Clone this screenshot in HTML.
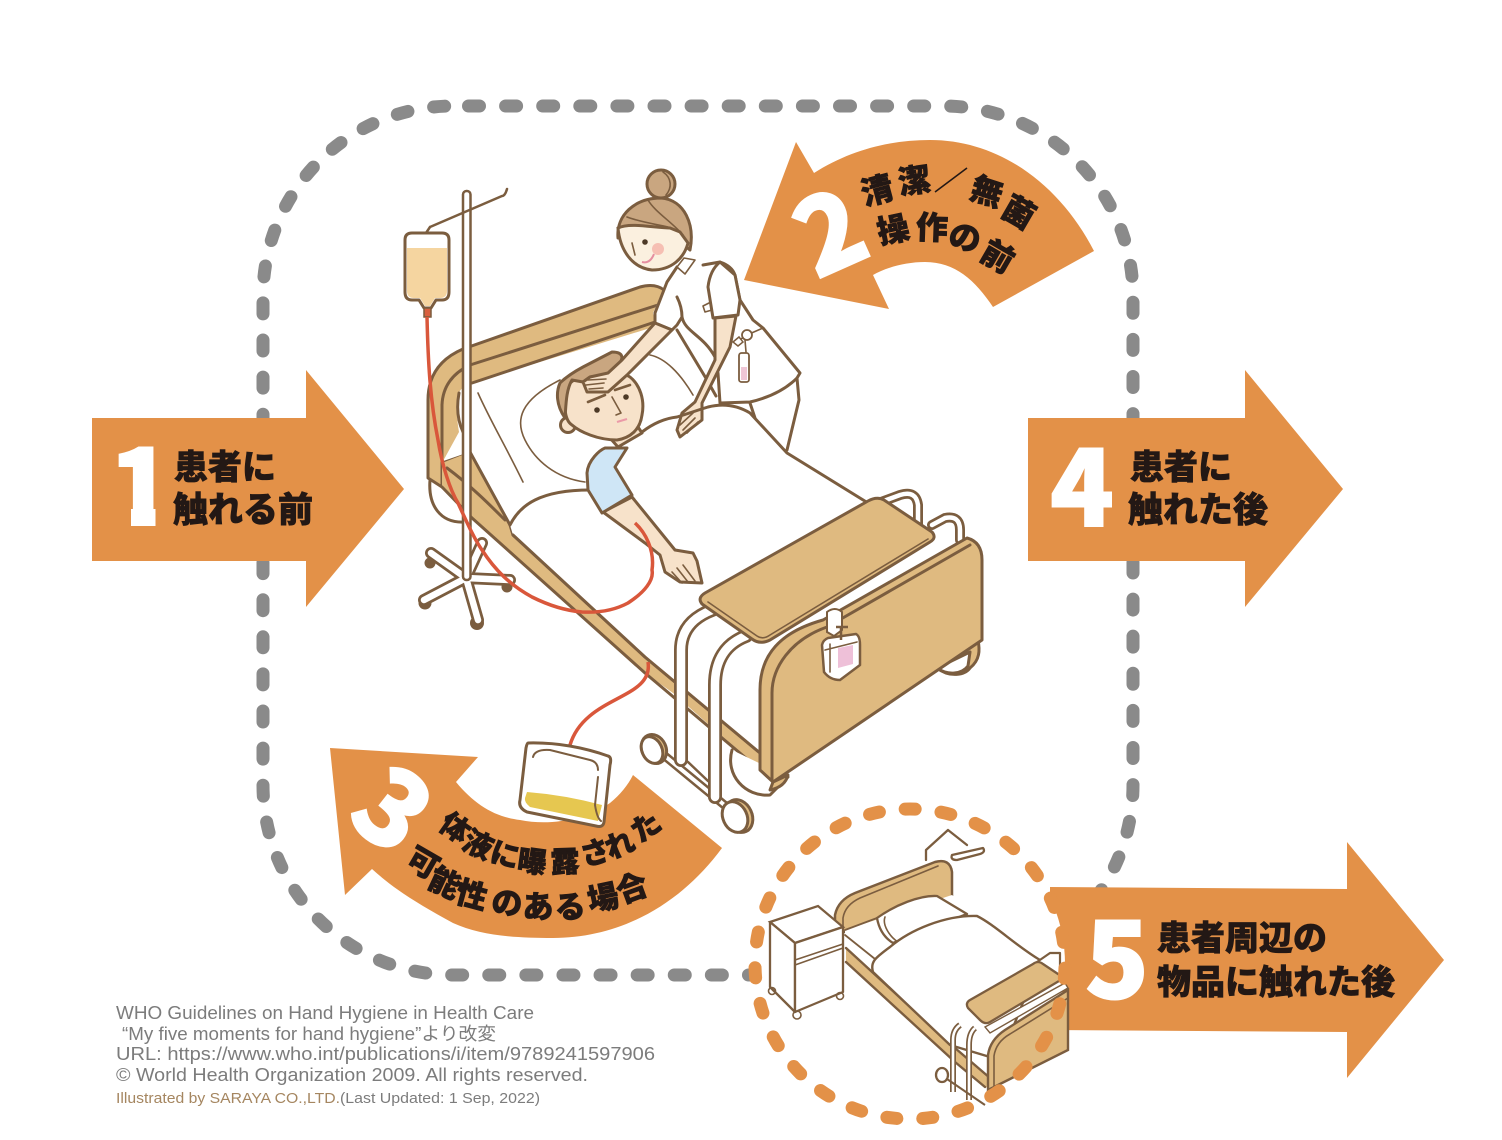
<!DOCTYPE html>
<html lang="ja"><head><meta charset="utf-8"><title>5 moments</title>
<style>
html,body{margin:0;padding:0;background:#fff}
svg{display:block}
.l{fill:none;stroke:#7b5d3f;stroke-width:3;stroke-linecap:round;stroke-linejoin:round}
.t{stroke-width:1.6}
.tan{fill:#dfba80}.w{fill:#fff}.sk{fill:#f7e2ca}.hr{fill:#c9a680}
.j{font-family:"Liberation Sans","Noto Sans CJK JP",sans-serif;font-weight:900;font-size:32px;fill:#231815;stroke:#231815;stroke-width:.7;text-anchor:middle}
.n{font-family:"Noto Sans CJK JP","Liberation Sans",sans-serif;font-weight:900;fill:#fff;stroke:#fff;stroke-width:2;font-size:104px;text-anchor:middle}
.c{font-family:"Liberation Sans","Noto Sans CJK JP",sans-serif;font-size:18px;fill:#7c7c7c}
</style></head><body>
<svg width="1502" height="1140" viewBox="0 0 1502 1140" xmlns="http://www.w3.org/2000/svg">
<rect width="1502" height="1140" fill="#fff"/>
<rect x="263" y="106" width="870" height="869" rx="190" fill="none" stroke="#8a8a8a" stroke-width="13" stroke-linecap="round" stroke-dasharray="11 26.1" stroke-dashoffset="-15.5"/>

<g fill="#e39148">
<path d="M92,418H306V370L404,489L306,607V561H92Z"/>
<path d="M1028,418H1245V370L1343,489L1245,607V561H1028Z"/>
<path d="M796,142L814,173C850,150 890,140 930,140C1000,140 1060,185 1094,251L993,307C975,280 955,262 925,262C905,262 885,268 873,275L889,309L744,280Z"/>
<path d="M330,748L478,757L456,782C475,805 495,817 520,820C550,826 585,820 610,803C620,795 628,785 633,775L722,848C680,905 620,938 553,938C510,938 480,935 453,923C420,905 395,890 372,869L345,895Z"/>
</g>
<text class="n" x="141" y="525">1</text>
<g fill="#e39148"><rect x="100" y="505" width="31" height="26"/><rect x="155.5" y="505" width="20" height="26"/></g>
<text class="n" x="1082" y="526">4</text>
<text class="n" transform="translate(830,232) rotate(-24)" x="0" y="38">2</text>
<text class="n" transform="translate(392,810) rotate(38)" x="0" y="37">3</text>

<g class="j" style="font-size:34px">
<text x="225" y="479">患者に</text><text x="243" y="522" style="font-size:35px">触れる前</text>
<text x="1181" y="479">患者に</text><text x="1198" y="522" style="font-size:35px">触れた後</text>
</g>
<g class="j">
<text transform="translate(877,190) rotate(-15)" y="12">清</text>
<text transform="translate(914,180) rotate(-8)" y="12">潔</text>
<text transform="translate(987,191) rotate(18)" y="12">無</text>
<text transform="translate(1019,212) rotate(30)" y="12">菌</text>
<text transform="translate(893,229) rotate(-12)" y="12">操</text>
<text transform="translate(932,227) rotate(2)" y="12">作</text>
<text transform="translate(965,237) rotate(15)" y="12">の</text>
<text transform="translate(998,256) rotate(30)" y="12">前</text>
</g>
<g class="j" style="font-size:29px">
<text transform="translate(455,828) rotate(35)" y="10">体</text>
<text transform="translate(478,845) rotate(25)" y="10">液</text>
<text transform="translate(505,855) rotate(15)" y="10">に</text>
<text transform="translate(532,862) rotate(8)" y="10">曝</text>
<text transform="translate(565,862) rotate(-2)" y="10">露</text>
<text transform="translate(595,853) rotate(-15)" y="10">さ</text>
<text transform="translate(620,845) rotate(-22)" y="10">れ</text>
<text transform="translate(646,827) rotate(-35)" y="10">た</text>
</g>
<g class="j" style="font-size:31px">
<text transform="translate(423,863) rotate(30)" y="11">可</text>
<text transform="translate(445,883) rotate(25)" y="11">能</text>
<text transform="translate(472,895) rotate(15)" y="11">性</text>
<text transform="translate(507,903) rotate(5)" y="11">の</text>
<text transform="translate(538,907)" y="11">あ</text>
<text transform="translate(570,907) rotate(-5)" y="11">る</text>
<text transform="translate(603,898) rotate(-12)" y="11">場</text>
<text transform="translate(632,888) rotate(-20)" y="11">合</text>
</g>
<path d="M935,192L967,168" stroke="#231815" stroke-width="1.6"/>

<!-- IV stand -->
<g fill="#7b5d3f">
<circle cx="430" cy="563" r="5.5"/><circle cx="425" cy="603" r="6.5"/><circle cx="477" cy="623" r="7"/><circle cx="507" cy="587" r="5.5"/>
</g>
<g fill="none" stroke-linecap="round" stroke-linejoin="round">
<path d="M466,578L431,553M466,578L424,600M466,578L478,620M466,578L510,580M466,578L482,543" stroke="#7b5d3f" stroke-width="12"/>
<path d="M466,578L431,553M466,578L424,600M466,578L478,620M466,578L510,580M466,578L482,543" stroke="#fff" stroke-width="6.5"/>
</g>

<!-- rear wheel left -->
<path class="l" d="M430,480C428,505 440,524 466,522"/>
<!-- headboard -->
<path class="tan" d="M664,290Q655,283 640,287L463,349Q428,364 428,400L428,478L442,487L472,518L470,452L442,463L459,432Q455,410 459,393Q460,388 472,383L660,325Z"/>
<path class="l" d="M664,290Q655,283 640,287L463,349Q428,364 428,400V478L442,487V405"/>
<path class="l" d="M661,304L470,365Q443,378 442,405M472,383L655,322M459,393Q455,415 463,432M442,463L468,454"/>
<!-- side frame -->
<path class="tan" d="M442,463L470,452L510,525L513,535L645,657L760,753V770L673,693L645,673L472,518L442,487Z"/>
<path class="l" d="M442,487L472,518L645,673L760,770M470,452L510,525L513,535L645,657L760,753M447,468C470,485 490,505 505,520"/>

<!-- bed white region -->
<path class="w" d="M590,490C560,487 530,495 510,525L513,535L645,657L760,753V680C760,640 790,622 823,620L935,540L868,503L787,450C765,428 745,402 712,403C680,405 650,425 627,450Z"/>
<path class="l t" d="M478,393C490,420 505,445 523,482M585,482C555,478 535,460 525,440C515,420 520,400 560,380M650,355C665,358 680,373 693,395"/>
<path class="l" d="M513,535L645,657L760,753"/>

<!-- nurse back -->
<path class="w" d="M677,267L695,260L703,265L720,262Q732,266 735,275L740,300L753,320L763,328L800,373L797,378Q780,395 750,402L720,403L700,380L655,323L653,313L667,282Z"/>
<path class="l" d="M677,267L667,282L655,313L655,323L672,330L677,325L682,317M682,317C685,332 703,335 715,357M677,297C681,305 682,312 682,317M677,330L707,380L716,396M703,265L720,262Q732,266 735,275L740,300L753,320L763,328L800,373L797,378Q780,395 750,402L720,403M797,378L799,400L787,450M750,403L755,418M718,373L720,403"/>
<path class="w l t" d="M677,267L684,258L695,260L685,274Z"/>
<path class="l t" d="M708,287L713,318M703,306L711,302L712,310L705,312Z"/>
<path class="l t" d="M738,341L747,335L763,328M745,340L746,352"/>
<circle cx="747" cy="335" r="5" fill="#fff" stroke="#7b5d3f" stroke-width="1.8"/>
<path d="M733,342L739,337L743,342L738,346Z" fill="#fff" stroke="#7b5d3f" stroke-width="1.5"/>
<rect x="739" y="353" width="10" height="29" rx="2.5" fill="#fff" stroke="#7b5d3f" stroke-width="1.8"/>
<rect x="741" y="367" width="6" height="13" fill="#efc6d6"/>

<!-- nurse arm far -->
<path class="sk" d="M655,323L672,330L627,375L608,392L587,392L583,382L590,377L608,373L622,360Z"/>

<!-- nurse near arm -->
<path class="w l" d="M708,287L713,318L738,315L740,300L735,275L720,262Q710,270 708,287Z"/>
<path class="sk l" d="M715,318L736,316L730,347L702,403L702,420L680,437L677,430L682,413L695,402L715,360Z"/>
<path class="l t" d="M683,430L695,418M680,425L693,413M687,433L698,422"/>

<!-- nurse head -->
<circle cx="661" cy="184" r="14" class="hr l"/>
<path class="l t" d="M663,172C672,178 672,188 666,195"/>
<path class="hr l" d="M661,198C635,198 616,215 618,238C625,222 670,232 690,250C695,225 685,200 661,198Z"/>
<path class="l t" d="M648,200C655,212 672,222 683,235M627,217C640,222 655,224 668,227"/>
<path d="M618,228C620,250 632,268 652,270C672,270 684,258 688,243L680,232L670,228C655,228 630,222 618,228Z" fill="#fbf0df" stroke="#7b5d3f" stroke-width="3"/>
<circle cx="645" cy="242" r="2.8" fill="#4d3a27"/>
<circle cx="658" cy="249" r="6" fill="#f6bfb3"/>
<path d="M642,262Q650,264 654,254" fill="none" stroke="#e58ea0" stroke-width="2"/>
<path class="l t" d="M632,243L635,255"/>

<!-- patient -->
<path class="sk l" d="M610,438L618,447L642,433L638,427Z"/>
<circle cx="568" cy="425" r="7.5" class="sk l"/>
<path class="sk l" d="M570,383C562,400 564,420 572,425C580,432 598,440 617,440C630,438 640,430 642,415C645,400 640,385 630,377L600,360Z"/>
<path class="hr l" d="M565,418C556,405 556,392 560,383Q568,375 583,367L612,352Q622,352 622,358L617,373L590,377L583,382L572,380C566,390 566,405 565,418Z"/>
<path class="l" style="stroke-width:2.6" d="M588,402L605,395M615,390L630,385"/>
<circle cx="597" cy="410" r="2.8" fill="#4d3a27"/><circle cx="626" cy="397" r="2.8" fill="#4d3a27"/>
<path class="l t" d="M612,397L621,413L616,415"/>
<path d="M617,422L627,419" stroke="#eb9aa8" stroke-width="2.2"/>
<!-- patient forehead hand / far arm outline -->
<path class="sk l" d="M655,323L672,330L627,375L608,392L587,392L583,382L590,377L608,373L622,360Z"/>
<path class="l t" d="M586,385L604,383M588,380L606,379M589,389L603,388"/>

<!-- blanket outlines -->
<path class="l" d="M642,432C655,422 668,418 677,417C690,413 698,410 708,407C720,404 735,404 750,413L787,453L868,503"/>
<path class="l" d="M510,525C520,505 540,490 590,490"/>

<!-- arm & sleeve -->
<path class="sk l" d="M603,512L632,497L675,550L693,553L697,561L702,583L680,582L665,572L660,555L645,543Z"/>
<path class="l t" d="M677,568L688,582M683,565L695,581M672,572L682,583"/>
<path d="M587,473C588,460 600,450 605,448L627,448L615,467L632,495L602,513L588,490Z" fill="#cfe6f6" stroke="#7b5d3f" stroke-width="3" stroke-linejoin="round"/>

<!-- rear table uprights -->
<path d="M873,505L900,495Q916,490 918,505V530M932,525L945,518Q960,515 960,530V540" fill="none" stroke="#7b5d3f" stroke-width="10" stroke-linecap="round"/>
<path d="M873,505L900,495Q916,490 918,505V530M932,525L945,518Q960,515 960,530V540" fill="none" stroke="#fff" stroke-width="4.5" stroke-linecap="round"/>

<!-- wheels bed -->
<path class="w l" d="M732,750C725,775 745,797 770,795L788,777"/>
<path class="tan l" d="M937,668C950,678 965,675 970,668C980,660 980,650 978,640Z" style="fill:#dfba80"/>
<path class="w l" d="M937,668C948,676 962,674 968,666L970,652Z"/>

<!-- front table uprights -->
<g fill="none" stroke-linecap="round" stroke-linejoin="round">
<path d="M660,752L728,808" stroke="#7b5d3f" stroke-width="9"/>
<path d="M660,752L728,808" stroke="#fff" stroke-width="4"/>
<path d="M712,610Q681,622 681,650V760" stroke="#7b5d3f" stroke-width="14"/>
<path d="M746,636Q715,648 715,685V797" stroke="#7b5d3f" stroke-width="14"/>
<path d="M712,610Q681,622 681,650V760" stroke="#fff" stroke-width="8.5"/>
<path d="M746,636Q715,648 715,685V797" stroke="#fff" stroke-width="8.5"/>
<path d="M688,762L708,781" stroke="#7b5d3f" stroke-width="2.5"/>
</g>
<ellipse cx="654" cy="749" rx="12" ry="15" transform="rotate(-25 654 749)" fill="#dfba80" stroke="#7b5d3f" stroke-width="3"/>
<ellipse cx="652" cy="750" rx="10" ry="14" transform="rotate(-25 652 750)" fill="#fff" stroke="#7b5d3f" stroke-width="3"/>
<ellipse cx="739" cy="816" rx="13" ry="17" transform="rotate(-25 739 816)" fill="#dfba80" stroke="#7b5d3f" stroke-width="3"/>
<ellipse cx="735" cy="817" rx="12" ry="16" transform="rotate(-25 735 817)" fill="#fff" stroke="#7b5d3f" stroke-width="3"/>

<!-- footboard -->
<path class="tan" stroke="#7b5d3f" stroke-width="3" stroke-linejoin="round" d="M760,770V690C760,655 780,632 823,620L967,538Q982,542 982,560V640L773,782Z"/>
<path class="l" d="M772,780V693C772,668 790,640 827,627L970,545"/>
<path class="tan l" d="M773,782L788,775Q785,787 770,790Z" style="fill:#dfba80"/>

<!-- table -->
<path class="tan" stroke="#7b5d3f" stroke-width="3" stroke-linejoin="round" d="M868,501Q877,496 884,500L932,532Q937,538 930,542L770,640Q760,645 752,639L702,604Q697,598 705,593Z"/>
<path class="l t" d="M708,602L757,636Q763,640 770,635L928,539"/>

<!-- sanitizer -->
<path d="M827,632V612Q835,606 842,612V630L834,636Z" fill="#fff" stroke="#7b5d3f" stroke-width="2"/>
<path d="M822,645Q823,640 828,638L856,634Q860,636 860,645V665L840,680Q830,680 824,672Z" fill="#fff" stroke="#7b5d3f" stroke-width="2.5" stroke-linejoin="round"/>
<path d="M838,648L853,645V664L838,668Z" fill="#eec0d8"/>
<path d="M836,627H848M841,627V640" stroke="#7b5d3f" stroke-width="2.5" fill="none"/>
<path class="l t" d="M830,644V672M825,650L857,642"/>

<!-- IV pole and bag -->
<rect x="463" y="191" width="7.5" height="389" rx="3.5" fill="#fff" stroke="#7b5d3f" stroke-width="2.5"/>
<path class="l" d="M430,227L502,196Q505,196 507,189M426,233L430,227" style="stroke-width:2.5"/>
<path d="M412,233H442Q449,233 449,240V292Q449,300 442,300H436L431,308H424L419,300H412Q405,300 405,292V240Q405,233 412,233Z" fill="#fff" stroke="#7b5d3f" stroke-width="3" stroke-linejoin="round"/>
<path d="M407,248H447V291Q447,298 440,298H435L430,306H425L420,298H414Q407,298 407,291Z" fill="#f5d5a0"/>
<rect x="424" y="308" width="7" height="9" fill="#d9603f" stroke="#7b5d3f" stroke-width="1.5"/>

<!-- tube -->
<path d="M427,317C428,360 430,400 438,440C442,465 450,490 458,503C468,525 475,540 482,550C495,570 510,585 532,597C552,607 570,611 582,612C600,613 615,610 628,603C645,592 654,580 652,570C655,550 645,532 635,523" fill="none" stroke="#d9573b" stroke-width="3.5"/>
<path d="M648,662C654,700 585,695 570,745" fill="none" stroke="#d9573b" stroke-width="3.5"/>

<!-- urine bag -->
<path d="M528,743Q568,742 608,756Q612,757 610,765L604,822Q603,828 596,826L527,812Q518,808 520,800L526,748Q527,743 528,743Z" fill="#fff" stroke="#7b5d3f" stroke-width="3" stroke-linejoin="round"/>
<path d="M527,792Q565,795 602,805L598,821L530,807Q524,802 525,798Z" fill="#e6c750"/>
<path class="l" d="M533,757Q535,749 550,750L590,760Q598,762 598,770M598,777L595,805Q597,818 601,821" style="stroke-width:2"/>

<!-- arrow 5 -->
<path d="M1050,887L1347,889V842L1444,960L1347,1078V1032L1050,1030Z" fill="#e39148"/>
<text class="n" x="1117" y="998">5</text>
<g class="j" style="font-size:34px">
<text x="1242" y="950">患者周辺の</text><text x="1276" y="994">物品に触れた後</text>
</g>
<circle cx="910" cy="964" r="155" fill="#fff"/>

<!-- small bed -->
<g>
<path class="l t" style="stroke-width:2.3" d="M926,860V850L948,830L967,845M952,855L983,848Q986,852 980,854L957,860Q950,860 952,855Z"/>
<path d="M835,930V915Q838,900 855,893L935,862Q950,858 952,872V900L845,932Z" fill="#dfba80" stroke="#7b5d3f" stroke-width="2.5" stroke-linejoin="round"/>
<path class="l t" d="M843,930V918Q845,905 860,898L938,866"/>
<path d="M845,930L952,895L1040,960L1000,1060L950,1050L845,955Z" fill="#fff"/>
<path class="tan" d="M846,948L955,1048L990,1078V1090L955,1062L846,962Z"/>
<path class="l" style="stroke-width:2.4" d="M846,948L955,1048L990,1078M846,962L955,1062L985,1087"/>
<path class="w l" style="stroke-width:2.3" d="M877,918C895,905 920,895 937,896L967,914L893,943Q880,935 877,918Z"/>
<path class="l t" d="M885,917C882,925 890,937 898,942"/>
<path class="l t" style="stroke-width:1.8" d="M845,935L880,963"/>
<path class="l t" style="stroke-width:1.8" d="M845,930L877,918"/>
<path class="w l" style="stroke-width:2.4" d="M873,972C870,962 875,958 890,947C910,930 945,915 977,916C995,925 1015,945 1040,960L1000,1060L950,1045Z"/>
<path d="M770,922L818,906L843,927L795,943Z" fill="#fff" stroke="#7b5d3f" stroke-width="2.3"/>
<path d="M770,922L795,943V1012L770,987Z" fill="#fff" stroke="#7b5d3f" stroke-width="2.3" stroke-linejoin="round"/>
<path d="M795,943L843,927V992L795,1012Z" fill="#fff" stroke="#7b5d3f" stroke-width="2.3" stroke-linejoin="round"/>
<path class="l t" d="M795,960L843,944M795,965L843,948"/>
<circle cx="772" cy="991" r="3.5" class="l t" fill="#b59a78"/><circle cx="797" cy="1015" r="4" class="l t" fill="#b59a78"/><circle cx="840" cy="996" r="3.5" class="l t" fill="#b59a78"/>
<path class="w l" style="stroke-width:2.2" d="M1037,962L1050,953L1060,953V975"/>
<path d="M988,1090V1055Q990,1040 1005,1030L1068,990V1050Z" fill="#dfba80" stroke="#7b5d3f" stroke-width="2.4"/>
<path class="l t" d="M994,1090V1056Q996,1042 1010,1034L1068,998"/>
<path d="M960,1025Q953,1030 953,1040V1092M975,1028Q969,1033 969,1045V1100" fill="none" stroke="#7b5d3f" stroke-width="6"/>
<path d="M960,1025Q953,1030 953,1040V1092M975,1028Q969,1033 969,1045V1100" fill="none" stroke="#fff" stroke-width="2.6"/>
<ellipse cx="942" cy="1075" rx="6" ry="7" fill="#fff" stroke="#7b5d3f" stroke-width="2.3"/>
<path d="M947,1079L985,1105" stroke="#7b5d3f" stroke-width="2"/>
<path class="tan" stroke="#7b5d3f" stroke-width="2.3" stroke-linejoin="round" d="M1033,964Q1038,960 1043,964L1064,978L990,1022Q985,1025 980,1020L968,1008Q965,1003 970,1000Z"/>
<path d="M985,1027L1065,983L1068,988L990,1033Z" fill="#fff" stroke="#7b5d3f" stroke-width="1.4"/>
</g>

<circle cx="910" cy="964" r="155" fill="none" stroke="#e39148" stroke-width="13" stroke-linecap="round" pathLength="27" stroke-dasharray="0.28 0.72" stroke-dashoffset="-0.115"/>

<!-- credits -->
<text class="c" x="116" y="1019" textLength="418" lengthAdjust="spacingAndGlyphs">WHO Guidelines on Hand Hygiene in Health Care</text>
<text class="c" x="122" y="1040" textLength="374" lengthAdjust="spacingAndGlyphs">“My five moments for hand hygiene”より改変</text>
<text class="c" x="116" y="1060" textLength="539" lengthAdjust="spacingAndGlyphs">URL: https://www.who.int/publications/i/item/9789241597906</text>
<text class="c" x="116" y="1081" textLength="472" lengthAdjust="spacingAndGlyphs">© World Health Organization 2009. All rights reserved.</text>
<text class="c" x="116" y="1103" style="font-size:15px;fill:#a58660" textLength="224" lengthAdjust="spacingAndGlyphs">Illustrated by SARAYA CO.,LTD.</text>
<text class="c" x="340" y="1103" style="font-size:15px" textLength="200" lengthAdjust="spacingAndGlyphs">(Last Updated: 1 Sep, 2022)</text>
</svg>
</body></html>
